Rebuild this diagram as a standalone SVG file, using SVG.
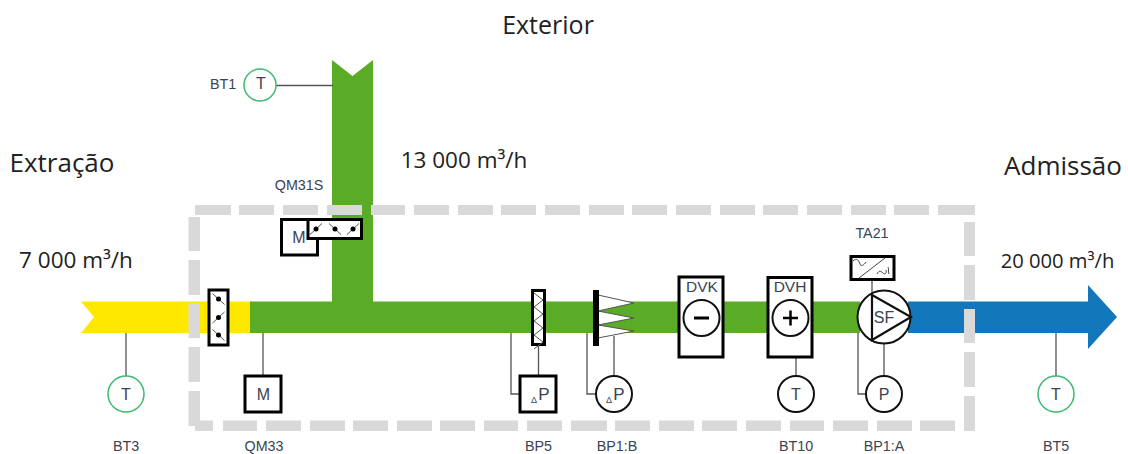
<svg xmlns="http://www.w3.org/2000/svg" width="1128" height="454" viewBox="0 0 1128 454">
<style>
text{font-family:"Liberation Sans",Arial,sans-serif;fill:#3a4354;text-anchor:middle}
.s{font-size:14.300px}
.m{font-size:16px}
.b{font-family:"Open Sans","Liberation Sans",sans-serif;fill:#222;font-size:22.500px}
.box{fill:#fff;stroke:#000;stroke-width:3}
.c{fill:#fff;stroke:#111;stroke-width:2}
.g{fill:#fff;stroke:#3dba6f;stroke-width:1.500}
.l{fill:none;stroke:#555;stroke-width:1.300}
.f{fill:#d9d9d9}
</style>
<defs>
<g id="blade"><line x1="-6" y1="-5.500" x2="6" y2="5.500" stroke="#555" stroke-width="1"/><circle r="2.500" fill="#000"/></g>
</defs>
<g id="ducts">
<polygon fill="#ffe800" points="81,301.500 252,301.500 252,333 81,333 94,317"/>
<polygon fill="#5aab26" points="250,301.500 332,301.500 332,60 352.500,76 373,60 373,301.500 860,301.500 860,333 250,333"/>
<polygon fill="#1277bb" points="908,301.500 1088,301.500 1088,285 1117,317 1088,349 1088,333 908,333"/>
</g>
<g id="connectors">
<line class="l" x1="276" y1="85.500" x2="333" y2="85.500"/>
<line class="l" x1="126" y1="333" x2="126" y2="376"/>
<line class="l" x1="263" y1="333" x2="263" y2="376"/>
<line class="l" x1="1056" y1="333" x2="1056" y2="376"/>
<path class="l" d="M511 333V394H520M538.500 345V376M587 333V394H596M614 336V376M796 357V376M858 333V394H866M884 344V376M872 280V296"/>
</g>
<g id="frame">
<path class="f" d="M195 205h36v10h-36zM239 205h35v10h-35zM283 205h35v10h-35zM327 205h35v10h-35zM371 205h34v10h-34zM414 205h35v10h-35zM458 205h35v10h-35zM501 205h35v10h-35zM545 205h35v10h-35zM589 205h35v10h-35zM632 205h35v10h-35zM676 205h35v10h-35zM720 205h35v10h-35zM763 205h35v10h-35zM807 205h35v10h-35zM851 205h35v10h-35zM894 205h35v10h-35zM938 205h37v10h-37z"/>
<path class="f" d="M188.500 217h11.500v34h-11.500zM188.500 260h11.500v35h-11.500zM188.500 303h11.500v35h-11.500zM188.500 347h11.500v35h-11.500zM188.500 391h11.500v35h-11.500z"/>
<path class="f" d="M964 222h11v34h-11zM964 265h11v35h-11zM964 309h11v34h-11zM964 352h11v35h-11zM964 396h11v35h-11z"/>
<path class="f" d="M195 420.500h18v10.500h-18zM223 420.500h34v10.500h-34zM266 420.500h35v10.500h-35zM310 420.500h35v10.500h-35zM353 420.500h35v10.500h-35zM397 420.500h35v10.500h-35zM440 420.500h35v10.500h-35zM484 420.500h34v10.500h-34zM527 420.500h35v10.500h-35zM571 420.500h36v10.500h-36zM615 420.500h35v10.500h-35zM659 420.500h35v10.500h-35zM702 420.500h35v10.500h-35zM746 420.500h35v10.500h-35zM790 420.500h34v10.500h-34zM833 420.500h35v10.500h-35zM877 420.500h35v10.500h-35zM920 420.500h35v10.500h-35z"/>
</g>
<g id="bt1"><circle class="g" cx="260" cy="85" r="16"/><text class="m" x="261" y="89">T</text><text class="s" x="223" y="89">BT1</text></g>
<g id="bt3"><circle class="g" cx="126" cy="394" r="18"/><text class="m" x="126" y="399.500">T</text><text class="s" x="126" y="451">BT3</text></g>
<g id="bt5"><circle class="g" cx="1056" cy="394" r="18"/><text class="m" x="1056" y="399.500">T</text><text class="s" x="1056" y="451">BT5</text></g>
<g id="qm31s">
<text class="s" x="299" y="190">QM31S</text>
<rect class="box" x="281.500" y="219.500" width="36" height="35.500"/><text class="m" x="299" y="243">M</text>
<rect class="box" x="308" y="219.500" width="53.500" height="19"/>
<use href="#blade" transform="translate(316,229) scale(1,-1)"/><use href="#blade" transform="translate(335,229)"/><use href="#blade" transform="translate(353,229) scale(1,-1)"/>
</g>
<g id="damper-in">
<rect class="box" x="209" y="290" width="19" height="55"/>
<use href="#blade" transform="translate(218.500,299)"/><use href="#blade" transform="translate(218.500,317.500) scale(1,-1)"/><use href="#blade" transform="translate(218.500,335)"/>
</g>
<g id="qm33"><rect class="box" x="245" y="376" width="36" height="36"/><text class="m" x="263.500" y="400">M</text><text class="s" x="264" y="451">QM33</text></g>
<g id="bp5-filter"><rect class="box" x="532.500" y="290.500" width="12" height="54"/>
<path d="M534 293l9 7-9 7 9 7-9 7 9 7-9 7 9 7-9 7" fill="none" stroke="#555" stroke-width="1"/></g>
<g id="bp5"><rect class="box" x="520" y="376" width="36" height="36"/><text x="534" y="403" style="font-size:9px">Δ</text><text x="544" y="400" style="font-size:17px">P</text><text class="s" x="538.500" y="451">BP5</text></g>
<g id="bp1b-filter">
<polygon points="598,295 634,303 598,311 634,318 598,325 634,331 598,338" fill="#fff" stroke="#555" stroke-width="1"/>
<rect x="593" y="290" width="6" height="56" fill="#000"/>
</g>
<g id="bp1b"><circle class="c" cx="614" cy="394" r="18"/><text x="609" y="403" style="font-size:9px">Δ</text><text x="619" y="400" style="font-size:17px">P</text><text class="s" x="617" y="451">BP1:B</text></g>
<g id="dvk"><rect class="box" x="679" y="277" width="44" height="80"/><text x="702" y="292" style="font-size:15.500px">DVK</text><circle class="c" cx="701.500" cy="318" r="18"/><rect x="694" y="316.500" width="15" height="3" fill="#000"/></g>
<g id="dvh"><rect class="box" x="768" y="277.500" width="44" height="79.500"/><text x="790" y="291.500" style="font-size:15.500px">DVH</text><circle class="c" cx="790.500" cy="318" r="18"/><path d="M783 318h15M790.500 310.500v15" stroke="#000" stroke-width="2.500"/></g>
<g id="bt10"><circle class="c" cx="796" cy="394" r="18"/><text class="m" x="796" y="400">T</text><text class="s" x="796" y="451">BT10</text></g>
<g id="sf"><circle class="c" cx="884" cy="317" r="26.500"/><polygon points="872,295 911,317 872,340" fill="#fff" stroke="#111" stroke-width="2.200"/><text class="m" x="884" y="323">SF</text></g>
<g id="bp1a"><circle class="c" cx="884" cy="394" r="18"/><text class="m" x="884" y="400">P</text><text class="s" x="884" y="451">BP1:A</text></g>
<g id="ta21"><text class="s" x="872" y="238">TA21</text><rect class="box" x="851" y="256.500" width="43" height="23"/><path d="M859 278L885 258M853 261c4-4 6 0 7 3s4 1 6-2M877 274c2-4 4-3 6-1s4 0 3-3M888 267c1 2 0 4 1 7" fill="none" stroke="#444" stroke-width="1"/></g>
<g id="labels">
<text class="b" x="548" y="34" style="font-size:25px">Exterior</text>
<text class="b" x="62" y="172" style="font-size:26px">Extração</text>
<text class="b" x="1063" y="175" style="font-size:26px">Admissão</text>
<text class="b" x="464" y="168">13 000 m³/h</text>
<text class="b" x="76" y="268">7 000 m³/h</text>
<text class="b" x="1057.500" y="268" style="font-size:20.200px">20 000 m³/h</text>
</g>
</svg>
